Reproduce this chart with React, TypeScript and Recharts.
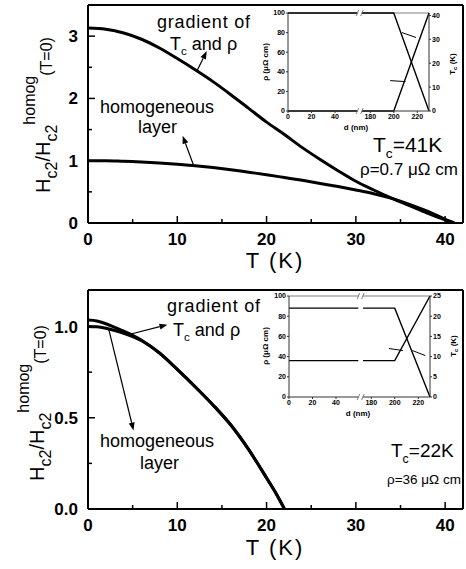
import React from "react";
import { LineChart, Line, XAxis, YAxis, ReferenceLine, ReferenceDot } from "recharts";

const FONT = "'Liberation Sans', Arial, Helvetica, sans-serif";

// upper panel: Tc = 41 K, rho = 0.7 uOhm cm
const tempsUpper = [0, 2, 4, 6, 8, 10, 12, 14, 16, 18, 20, 22, 24, 26, 28, 30, 32, 34, 36, 38, 40, 41];
const gradientUpper = [3.13, 3.11, 3.05, 2.95, 2.81, 2.64, 2.46, 2.27, 2.06, 1.84, 1.62, 1.42, 1.21, 1.02, 0.84, 0.67, 0.53, 0.4, 0.28, 0.16, 0.05, 0];
const homogUpper = [1.0, 1.0, 0.99, 0.98, 0.965, 0.945, 0.92, 0.89, 0.855, 0.815, 0.775, 0.73, 0.685, 0.635, 0.585, 0.53, 0.47, 0.395, 0.3, 0.19, 0.06, 0];

// lower panel: Tc = 22 K, rho = 36 uOhm cm
const tempsLower = [0, 1, 2, 3, 4, 5, 6, 8, 10, 12, 14, 16, 18, 20, 21, 22];
const gradientLower = [1.035, 1.03, 1.015, 0.995, 0.975, 0.952, 0.925, 0.855, 0.765, 0.67, 0.57, 0.46, 0.325, 0.17, 0.09, 0];
const homogLower = [1.0, 0.998, 0.99, 0.978, 0.963, 0.945, 0.922, 0.855, 0.765, 0.67, 0.57, 0.46, 0.325, 0.17, 0.09, 0];

// axes
const tempTicks = [0, 10, 20, 30, 40];
const tempMinor = [5, 15, 25, 35];
const upperTicks = [0, 1, 2, 3];
const upperMinor = [0.5, 1.5, 2.5];
const upperLabels = ["0", "1", "2", "3"];
const lowerTicks = [0, 0.5, 1];
const lowerMinor = [0.25, 0.75];
const lowerLabels = ["0.0", "0.5", "1.0"];

// insets: rho and Tc profiles across the film depth
const insetDepth = [0, 59, 60, 173, 200, 230];
const rhoUpper = [0, 0, null, 0, 0, 100];
const tcUpper = [41, 41, null, 41, 41, 0];
const rhoLower = [36, 36, null, 36, 36, 100];
const tcLower = [22, 22, null, 22, 22, 0];
const depthTicks = [0, 20, 40, 180, 200, 220];
const rhoTicks = [0, 20, 40, 60, 80, 100];
const tcTicksUpper = [0, 10, 20, 30, 40];
const tcTicksLower = [0, 5, 10, 15, 20, 25];

// annotation arrows, in data units: [from, to]
const arrowsUpper = [
  [[12.2, 2.44], [13.3, 2.76]],
  [[11.8, 0.935], [10.6, 1.4]],
];
const arrowsLower = [
  [[4.5, 0.955], [8.9, 1.01]],
  [[2.3, 0.99], [5.1, 0.43]],
];
// small pointer strokes inside the insets: [d1, rho1, d2, rho2]
const marksUpper = [
  [197, 31, 210, 30],
  [207, 80, 219, 75],
];
const marksLower = [
  [195, 48, 207, 46],
  [215, 46, 226, 41],
];

// depth axis is broken between 60 and 170 nm
const brokenAxis = (d: number) => (d > 100 ? d - 110 : d);

const ArrowShape = (p: any) => {
  const { x1, y1, x2, y2 } = p;
  const a = Math.atan2(y2 - y1, x2 - x1);
  const len = 8;
  const w = 3;
  const bx = x2 - len * Math.cos(a);
  const by = y2 - len * Math.sin(a);
  const pts = `${x2},${y2} ${bx + w * Math.sin(a)},${by - w * Math.cos(a)} ${bx - w * Math.sin(a)},${by + w * Math.cos(a)}`;
  return (
    <g>
      <line x1={x1} y1={y1} x2={bx} y2={by} stroke="#000" strokeWidth={1.2} />
      <polygon points={pts} fill="#000" />
    </g>
  );
};

const BreakMark = (p: any) => {
  const { cx, cy } = p;
  return (
    <g>
      <rect x={cx - 2} y={cy - 3} width={4} height={6} fill="#fff" />
      <line x1={cx - 3.5} y1={cy + 3} x2={cx - 1} y2={cy - 3} stroke="#666" strokeWidth={0.8} />
      <line x1={cx + 1} y1={cy + 3} x2={cx + 3.5} y2={cy - 3} stroke="#666" strokeWidth={0.8} />
    </g>
  );
};

function Panel(props: any) {
  const { temps, gradient, homog, yMax, yTicks, yMinor, yLabels, arrows, height, xAxisHeight } = props;
  const data = temps.map((t: number, i: number) => ({ t, gradient: gradient[i], homog: homog[i] }));

  const xTick = (p: any) => {
    const v = p.payload.value;
    const major = tempTicks.includes(v);
    return (
      <g>
        <line x1={p.x} x2={p.x} y1={p.y} y2={p.y - (major ? 7 : 4)} stroke="#000" strokeWidth={1.5} />
        {major && (
          <text x={p.x} y={p.y + 22} textAnchor="middle" fontFamily={FONT} fontWeight="bold" fontSize={17} fill="#000">
            {v}
          </text>
        )}
      </g>
    );
  };

  const yTick = (p: any) => {
    const v = p.payload.value;
    const idx = yTicks.indexOf(v);
    const major = idx >= 0;
    return (
      <g>
        <line x1={p.x} x2={p.x + (major ? 7 : 4)} y1={p.y} y2={p.y} stroke="#000" strokeWidth={1.5} />
        {major && (
          <text x={p.x - 10} y={p.y + 6} textAnchor="end" fontFamily={FONT} fontWeight="bold" fontSize={17} fill="#000">
            {yLabels[idx]}
          </text>
        )}
      </g>
    );
  };

  return (
    <LineChart width={466} height={height} data={data} margin={{ top: 5, right: 3, bottom: 0, left: 0 }}>
      <XAxis
        dataKey="t"
        type="number"
        domain={[0, 42]}
        allowDataOverflow
        ticks={[...tempTicks, ...tempMinor].sort((a, b) => a - b)}
        interval={0}
        tick={xTick}
        tickSize={0}
        tickMargin={0}
        tickLine={false}
        axisLine={{ stroke: "#000", strokeWidth: 2 }}
        height={xAxisHeight}
      />
      <YAxis
        type="number"
        domain={[0, yMax]}
        allowDataOverflow
        ticks={[...yTicks, ...yMinor].sort((a: number, b: number) => a - b)}
        interval={0}
        tick={yTick}
        tickSize={0}
        tickMargin={0}
        tickLine={false}
        axisLine={{ stroke: "#000", strokeWidth: 2 }}
        width={88}
      />
      <ReferenceLine y={yMax} stroke="#000" strokeWidth={2} />
      <ReferenceLine x={42} stroke="#000" strokeWidth={2} />
      <Line type="monotone" dataKey="homog" stroke="#000" strokeWidth={3} dot={false} isAnimationActive={false} />
      <Line type="monotone" dataKey="gradient" stroke="#000" strokeWidth={3} dot={false} isAnimationActive={false} />
      {arrows.map((a: number[][], i: number) => (
        <ReferenceLine
          key={i}
          segment={[
            { x: a[0][0], y: a[0][1] },
            { x: a[1][0], y: a[1][1] },
          ]}
          ifOverflow="visible"
          shape={ArrowShape}
        />
      ))}
    </LineChart>
  );
}

function Inset(props: any) {
  const { left, top, plotHeight, rho, tc, tcMax, tcTicks, marks } = props;
  const data = insetDepth.map((d, i) => ({ u: brokenAxis(d), rho: rho[i], tc: tc[i] }));
  const tickStyle = { fontSize: 7, fontWeight: 700, fill: "#000", fontFamily: FONT };
  return (
    <div style={{ position: "absolute", left, top }}>
      <LineChart width={215} height={13 + plotHeight + 24} data={data} margin={{ top: 13, right: 0, bottom: 0, left: 0 }}>
        <XAxis
          dataKey="u"
          type="number"
          domain={[0, 120]}
          ticks={depthTicks.map(brokenAxis)}
          interval={0}
          tickFormatter={(u: number) => String(u > 62 ? u + 110 : u)}
          tick={tickStyle}
          tickSize={2}
          tickMargin={1}
          tickLine={{ stroke: "#333" }}
          axisLine={{ stroke: "#333" }}
          height={24}
        />
        <YAxis
          yAxisId="rho"
          type="number"
          domain={[0, 100]}
          ticks={rhoTicks}
          interval={0}
          tick={tickStyle}
          tickSize={2}
          tickMargin={1}
          tickLine={{ stroke: "#333" }}
          axisLine={{ stroke: "#333" }}
          width={38}
        />
        <YAxis
          yAxisId="tc"
          orientation="right"
          type="number"
          domain={[0, tcMax]}
          ticks={tcTicks}
          interval={0}
          tick={tickStyle}
          tickSize={2}
          tickMargin={1}
          tickLine={{ stroke: "#333" }}
          axisLine={{ stroke: "#333" }}
          width={36}
        />
        <ReferenceLine yAxisId="rho" y={100} stroke="#aaa" strokeWidth={1.5} />
        <Line yAxisId="rho" dataKey="rho" stroke="#000" strokeWidth={1.4} dot={false} isAnimationActive={false} />
        <Line yAxisId="tc" dataKey="tc" stroke="#000" strokeWidth={1.4} dot={false} isAnimationActive={false} />
        {marks.map((m: number[], i: number) => (
          <ReferenceLine
            key={i}
            yAxisId="rho"
            segment={[
              { x: brokenAxis(m[0]), y: m[1] },
              { x: brokenAxis(m[2]), y: m[3] },
            ]}
            stroke="#000"
            strokeWidth={1}
            ifOverflow="visible"
          />
        ))}
        <ReferenceDot yAxisId="rho" x={61} y={0} ifOverflow="visible" shape={BreakMark} />
        <ReferenceDot yAxisId="rho" x={61} y={100} ifOverflow="visible" shape={BreakMark} />
      </LineChart>
    </div>
  );
}

function Tc(props: any) {
  const { x, y, size, rest } = props;
  return (
    <text x={x} y={y} fontSize={size} fill="#000">
      T
      <tspan fontSize={size * 0.65} dy={size * 0.3}>
        c
      </tspan>
      <tspan dy={-size * 0.3}>{rest}</tspan>
    </text>
  );
}

export default function App() {
  return (
    <div style={{ position: "absolute", left: 0, top: 0, width: 466, height: 569, background: "#fff" }}>
      <div style={{ position: "absolute", left: 0, top: 0 }}>
        <Panel
          temps={tempsUpper}
          gradient={gradientUpper}
          homog={homogUpper}
          yMax={3.5}
          yTicks={upperTicks}
          yMinor={upperMinor}
          yLabels={upperLabels}
          arrows={arrowsUpper}
          height={285}
          xAxisHeight={62}
        />
      </div>
      <div style={{ position: "absolute", left: 0, top: 285 }}>
        <Panel
          temps={tempsLower}
          gradient={gradientLower}
          homog={homogLower}
          yMax={1.2}
          yTicks={lowerTicks}
          yMinor={lowerMinor}
          yLabels={lowerLabels}
          arrows={arrowsLower}
          height={284}
          xAxisHeight={60}
        />
      </div>
      <Inset left={250} top={0} plotHeight={98} rho={rhoUpper} tc={tcUpper} tcMax={41} tcTicks={tcTicksUpper} marks={marksUpper} />
      <Inset left={251} top={283} plotHeight={101} rho={rhoLower} tc={tcLower} tcMax={25} tcTicks={tcTicksLower} marks={marksLower} />
      <svg
        width={466}
        height={569}
        style={{ position: "absolute", left: 0, top: 0, pointerEvents: "none" }}
        fontFamily={FONT}
      >
        {/* y axis titles */}
        <text transform="translate(50,115) rotate(-90)" textAnchor="middle" fontSize={20} fill="#000">
          H<tspan fontSize={16} dy={7}>c2</tspan>
          <tspan dy={-7}>/H</tspan>
          <tspan fontSize={16} dy={7}>c2</tspan>
          <tspan fontSize={16} dy={-22}>homog</tspan>
          <tspan fontSize={16} dy={17}>(T=0)</tspan>
        </text>
        <text transform="translate(44,403) rotate(-90)" textAnchor="middle" fontSize={20} fill="#000">
          H<tspan fontSize={16} dy={7}>c2</tspan>
          <tspan dy={-7}>/H</tspan>
          <tspan fontSize={16} dy={7}>c2</tspan>
          <tspan fontSize={16} dy={-22}>homog</tspan>
          <tspan fontSize={16} dy={17}>(T=0)</tspan>
        </text>
        {/* x axis titles */}
        <text x={275} y={268} textAnchor="middle" fontSize={22} letterSpacing={2} fill="#000">T (K)</text>
        <text x={275} y={555} textAnchor="middle" fontSize={22} letterSpacing={2} fill="#000">T (K)</text>

        {/* upper annotations */}
        <text x={157} y={28} fontSize={18} letterSpacing={0.8} fill="#000">gradient of</text>
        <Tc x={170} y={50} size={18} rest=" and ρ" />
        <text x={100} y={113} fontSize={18} fill="#000">homogeneous</text>
        <text x={138} y={133} fontSize={18} fill="#000">layer</text>
        <Tc x={373} y={152} size={21} rest="=41K" />
        <text x={360} y={175} fontSize={17} fill="#000">ρ=0.7 μΩ cm</text>

        {/* lower annotations */}
        <text x={167} y={312} fontSize={18} letterSpacing={0.8} fill="#000">gradient of</text>
        <Tc x={173} y={336} size={18} rest=" and ρ" />
        <text x={100} y={447} fontSize={18} fill="#000">homogeneous</text>
        <text x={140} y={469} fontSize={18} fill="#000">layer</text>
        <Tc x={391} y={457} size={19} rest="=22K" />
        <text x={387} y={484} fontSize={13.5} fill="#000">ρ=36 μΩ cm</text>

        {/* inset axis titles */}
        <text x={356} y={130} textAnchor="middle" fontSize={8} fontWeight="bold" fill="#000">d (nm)</text>
        <text transform="translate(268,62) rotate(-90)" textAnchor="middle" fontSize={8} fontWeight="bold" fill="#000">ρ (μΩ cm)</text>
        <text transform="translate(455,64) rotate(-90)" textAnchor="middle" fontSize={8} fontWeight="bold" fill="#000">
          T<tspan fontSize={6} dy={1.5}>c</tspan><tspan dy={-1.5}> (K)</tspan>
        </text>
        <text x={358} y={416} textAnchor="middle" fontSize={8} fontWeight="bold" fill="#000">d (nm)</text>
        <text transform="translate(268,346) rotate(-90)" textAnchor="middle" fontSize={8} fontWeight="bold" fill="#000">ρ (μΩ cm)</text>
        <text transform="translate(456,346) rotate(-90)" textAnchor="middle" fontSize={8} fontWeight="bold" fill="#000">
          T<tspan fontSize={6} dy={1.5}>c</tspan><tspan dy={-1.5}> (K)</tspan>
        </text>
      </svg>
    </div>
  );
}
